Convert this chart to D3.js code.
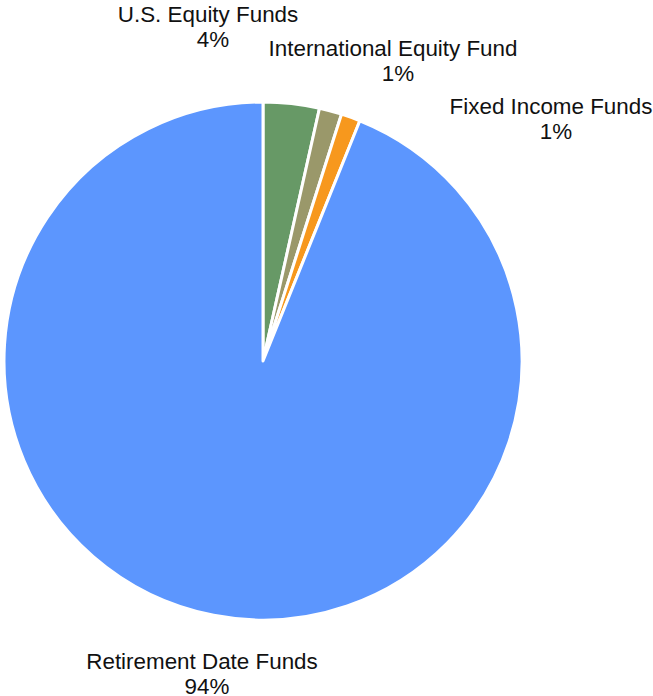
<!DOCTYPE html>
<html>
<head>
<meta charset="utf-8">
<script src="https://cdn.jsdelivr.net/npm/d3@7"></script>
<style>
  body { margin: 0; background: #fff; }
  text { font-family: "Liberation Sans", Arial, sans-serif; font-size: 22.4px; fill: #111; }
</style>
</head>
<body>
<script>
var WIDTH = 653, HEIGHT = 696;
var CX = 263, CY = 361, RADIUS = 259;

// data
var categories = ["U.S. Equity Funds", "International Equity Fund", "Fixed Income Funds", "Retirement Date Funds"];
var shares = [3.5, 1.4, 1.2, 93.9];
var pctLabels = ["4%", "1%", "1%", "94%"];
var colors = ["#679966", "#9a986a", "#f7981d", "#5c96fe"];

// label layout: centre x and first baseline, relative to pie centre
var labelOffsets = [[-55, -339], [130, -305], [288, -247], [-61, 308]];

var svg = d3.select("body").append("svg")
    .attr("width", WIDTH)
    .attr("height", HEIGHT);

var pie = d3.pie().sort(null).value(function(d){ return d; });
var arc = d3.arc().innerRadius(0).outerRadius(RADIUS);

var g = svg.append("g").attr("transform", "translate(" + CX + "," + CY + ")");

g.selectAll("path").data(pie(shares))
    .enter()
    .append("path")
    .attr("d", arc)
    .attr("fill", function(d, i){ return colors[i]; })
    .attr("stroke", "#fff")
    .attr("stroke-width", 3)
    .attr("stroke-linejoin", "round");

var labels = g.selectAll(".label").data(categories)
    .enter()
    .append("text")
    .classed("label", true)
    .attr("text-anchor", "middle")
    .attr("transform", function(d, i){ return "translate(" + labelOffsets[i][0] + "," + labelOffsets[i][1] + ")"; });

labels.append("tspan").attr("x", 0).attr("y", 0).text(function(d){ return d; });
labels.append("tspan").attr("x", 5).attr("y", 25).text(function(d, i){ return pctLabels[i]; });
</script>
</body>
</html>
